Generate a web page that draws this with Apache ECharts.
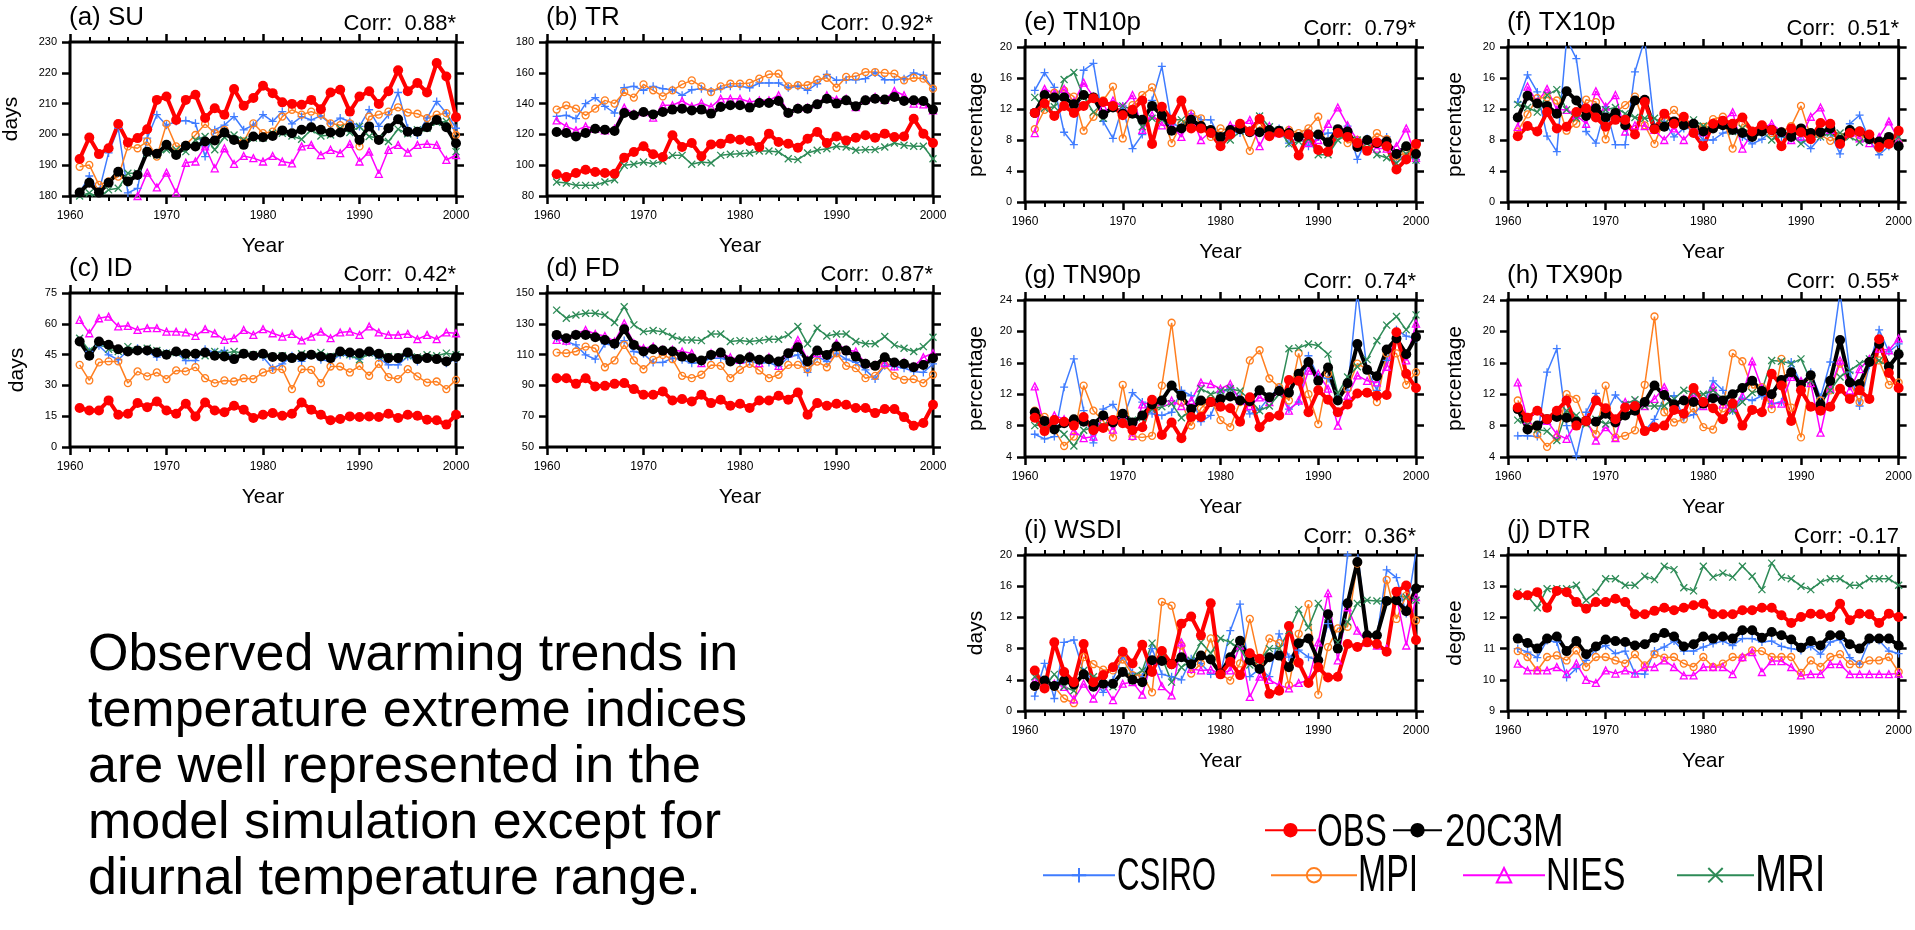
<!DOCTYPE html>
<html><head><meta charset="utf-8">
<script src="https://cdn.jsdelivr.net/npm/echarts@6/dist/echarts.min.js"></script>
<style>html,body{margin:0;padding:0;background:#fff}#c{width:1915px;height:930px}</style>
</head><body><div id="c"></div>
<script>
const years = [1961,1962,1963,1964,1965,1966,1967,1968,1969,1970,1971,1972,1973,1974,1975,1976,1977,1978,1979,1980,1981,1982,1983,1984,1985,1986,1987,1988,1989,1990,1991,1992,1993,1994,1995,1996,1997,1998,1999,2000];

// (a) SU
const suObs = [192,199,193.6,195.5,203.4,197.4,198.8,201.7,211.2,212.3,204.7,211.2,212.9,205.3,208.5,206.4,214.7,209.3,211.8,215.8,213.4,210.4,209.9,209.6,211.2,208.2,213.6,214.5,207.4,212.3,214,209.9,214,220.8,214,216.7,213.6,223.2,218.8,205.6];
const su20c3m = [181.1,184.3,181.1,184.3,187.9,184.7,186.8,194.4,193.7,196.6,193.3,196.3,196.1,197.7,198,200.6,198.2,196.6,199.3,199.1,199.5,201.3,200.4,201.5,202.3,201.5,200.6,200.6,202.3,198.2,202.6,198.2,202,204.9,200.9,200.9,202.3,204.7,202.3,197.1];
const suCsiro = [181,186.5,181.4,194,202,181,182.5,198.8,206.4,203,204.2,204.5,203.6,192.8,201.5,203,205.8,201.5,203,206.4,204.2,207.4,203.4,205.8,204.7,206,203.4,205.3,204.2,202.6,208,202.6,206.4,213.6,202,199.8,205.3,210.7,206.9,202];
const suMpi = [189.5,190.1,183.6,184.7,186.3,196.1,195.5,197.7,192.8,203.4,196.1,196.6,199.8,203.4,200.4,201.5,198.2,197.7,203.6,200.4,200.9,205.8,208,206.4,207.4,206.4,203.6,203,203.6,196.1,205.8,206.4,207.4,208.8,207.1,206.7,205.3,206.4,206.9,199.8];
const suNies = [175,176,174,176,177,178,180,187.6,182.8,187.6,181.1,190.8,191.2,196.1,189,195.5,190.4,193,192.3,191.2,193,191.2,190.6,196.1,196.6,193.3,195,193.9,196.9,191.2,194.4,187.2,195,196.6,194.1,196.6,196.9,196.6,191.7,193.3];
const suMri = [180,181,179.5,182,182.5,187.4,187.4,193.9,193.3,195,195,194.4,198.2,199.3,195,199.1,199.8,198.2,198.8,198.8,200.4,200.4,199.5,198.4,201.5,199.5,199.8,202,200.6,202.6,199.3,198.8,197.7,201.7,200.2,201.5,202,203.9,204.2,194.4];

// (b) TR
const trObs = [94.1,92.3,94.9,97.1,95.6,94.9,94.5,104.9,108.6,112.3,107.1,105.3,119.4,111.8,114.4,105.8,113.5,114,117.2,116.6,115.7,111.8,120.5,115.1,114,111.4,117.2,121.6,114.4,118.7,116.1,117.9,119.4,117.9,120.5,118.3,118.7,130.2,120.5,114.4];
const tr20c3m = [121.6,120.9,118.7,120.9,123.7,123.1,122.2,133.9,132.4,134.5,133,134.5,136.1,136.7,135.6,136.1,133.5,137.8,138.9,138.9,137.4,140.4,140.4,141.7,133.9,136.7,136.7,139.5,143.2,140,142.1,138.2,142.1,143.2,142.6,144.3,141.7,142.1,141.7,136.1];
const trCsiro = [131.7,132.4,130.2,140,143.9,138.2,133.9,150.3,151.2,148.6,151.2,149.7,149,145.4,149,149.7,148.2,149.7,151.2,151.2,150.3,153.4,153.4,153.4,150.3,151.2,148.6,152.9,159,155.1,155.5,155.5,156.2,159.9,155.5,155.5,156.2,159.9,158.4,149.7];
const trMpi = [136.1,138.9,136.7,132.4,136.7,142.1,140,147.5,143.9,152.5,148.6,144.7,148.6,152.5,155.1,151.2,147.5,151.2,152.9,152.9,153.4,156.2,159,159.4,151.2,151.9,151.9,155.5,156.8,150.3,157.3,157.7,160.5,160.5,159.9,159.4,155.1,156.8,156.2,149.7];
const trNies = [129.1,125.2,122.6,125.2,123.7,122.6,123.7,137.4,133.5,134.5,130.9,138.9,138.9,141.7,138.2,140.4,137.8,143.2,143.2,143.2,141,142.1,142.1,145.4,134.5,137.4,137.4,140,145.4,142.6,143.2,137.8,142.6,144.3,142.6,148.2,145.4,140,139.5,135.6];
const trMri = [89.1,88.4,86.9,86.9,86.9,89.1,90.6,99.9,100.6,102.1,101,102.7,106.4,106.4,100.6,102.1,101.4,106.4,107.1,107.5,107.9,109.2,109.2,108.6,104.2,103.6,107.9,109.7,110.7,112.3,111.8,109.7,110.1,110.1,111.8,114.4,112.9,112.3,112.3,104.2];

// (c) ID
const idObs = [19,17.8,17.8,22.7,15.7,16.2,21.4,19.4,22.2,17.8,16.2,21.1,14.9,21.7,17.8,16.9,20.1,18.2,14.1,15.7,16.5,15.2,16.2,21.7,18.2,15.7,13,13.6,14.9,14.6,14.9,14.6,16.2,14.1,15.7,15.2,13.3,13,10.9,15.7];
const id20c3m = [51.4,44.4,51.4,49.8,47.6,46.5,47,47,46,44.9,46.5,45.4,45.4,46,44.4,44.1,42.8,45.4,44.4,45.4,43.8,43.8,43.3,44.1,44.9,44.1,43.3,46.5,46,45.7,46.5,45.4,43.3,43.3,46,42.8,43.3,42.8,41.7,43.8];
const idCsiro = [51.4,46.5,49.3,44.9,42.5,47,48.1,46.5,43.8,45.7,46,42.1,42.1,47.6,46,47,42.5,45.4,44.4,43.8,38.4,40.5,44.4,41.7,44.9,42.5,41.7,44.9,44.4,42.8,46,43.3,40,40,44.1,41.7,43.3,42.8,40.8,42.8];
const idMpi = [40,32.4,41.2,41.7,41.7,31.1,36.8,34.4,36.3,33.1,37.3,36.8,38.9,33.5,31.1,32.4,31.9,33.5,33.1,36.3,37.6,37.9,28.2,37.9,37.6,31.1,39.2,39.2,36.3,39.5,34.7,40.5,34,33.1,37.9,34.4,31.4,31.9,28.2,32.7];
const idNies = [61.9,55.4,62.7,63.5,58.7,59,57,57.9,57.9,56.2,56.2,55.8,54.1,57.4,55.4,52.2,53,57,54.6,57.4,55.4,53.8,55.1,51.9,53.8,56.2,53,55.8,56.2,54.6,58.7,55.8,54.6,54.6,55.1,52.5,54.6,52.5,55.8,55.4];
const idMri = [53,47,50.6,47.6,46.5,48.9,47.3,48.1,47,45.7,46,44.4,45.4,44.4,46.5,45.7,46.5,45.7,44.9,44.9,44.1,44.4,43.3,45.4,44.9,46,44.1,45.7,44.9,42.5,45.7,44.4,44.1,43.8,44.4,43.8,44.9,44.4,45.7,44.9];

// (d) FD
const fdObs = [94.7,94.7,91,94.7,89.3,89.7,91,91.5,87.6,83.9,83.9,86.1,80.2,81.1,79.6,83.9,78.5,80.7,76.8,78.1,75.3,80.2,80.2,83.3,80.7,85.4,71,78.5,76.8,78.1,77.4,75.3,75.3,72,74.6,74.6,69.4,63.8,65.6,77.4];
const fd20c3m = [122.8,120.6,122.8,122.8,121.3,119.5,117,126.5,116.3,112,113.5,112.6,112,108.7,107.7,106.2,109.8,111.3,105.5,107,108.3,106.6,107,105.5,110.9,114.8,105.5,112.6,109.8,115.2,112.6,108.7,104,102.7,108.3,104.9,104,101.8,103.3,107.7];
const fdCsiro = [120.6,118.5,116.3,109.8,107,117,115.7,119.1,112,110.5,104.9,104.9,107.7,106.6,104.4,104.9,107.7,107.7,105.5,104.4,105.5,104.4,104.9,102.3,108.3,109.8,98.4,108.7,105.5,110.9,107,104.9,100.1,94.1,102.7,102.3,101.2,99,98.4,104];
const fdMpi = [111.3,110.9,112,115.2,114.1,101.8,106.2,116.3,106.2,100.5,106.6,109.8,107,96.2,94.7,96.9,103.3,102.7,94.7,100.1,104,99.7,94.7,96.9,103.3,103.3,100.5,105.5,101.8,110.9,102.7,101.2,94.7,96.2,103.3,96.2,93.6,94.1,91.5,96.9];
const fdNies = [119.5,119.1,123.4,126,123.4,122.1,118.5,130.3,117.4,114.1,115.2,113.1,113.1,112,110.9,104.4,110.9,110.9,108.3,106.6,109.2,104.4,108.3,102.7,110.9,119.5,106.6,110.9,109.8,117.4,113.1,112,104.4,103.3,104.4,102.3,104.9,102.3,108.3,110.9];
const fdMri = [138.9,133.6,135.7,136.8,136.8,135.7,130.8,141.1,129.3,124.9,125.6,124.9,121.7,119.5,119.5,119.1,123.4,123.4,118.5,119.1,118.5,119.1,120,120,122.8,128.2,117,127.1,122.1,123.4,123.4,118.5,117,117,121.7,116.3,114.1,112,115.2,121.3];

// (e) TN10p
const tn10Obs = [11.5,12.7,11.1,12.4,11.5,12.4,13.4,12.9,12.4,11.2,11.9,13.1,7.5,12.3,10.6,13.1,9.5,9.5,8.9,7.2,8.7,10.1,9.1,10.7,8.5,8.9,8.7,6,8.7,6.7,6.5,8.9,8.4,7.6,6.6,7.7,7.2,4.2,5.5,7.5];
const tn10_20c3m = [11.5,13.8,13.5,13.5,12.6,13.8,13.5,11.3,12.2,11.4,11.4,10.6,12.4,11.2,9.2,9.5,10.6,9.8,9.3,8.4,9.3,9.4,9,9,9.3,9.2,8.9,8.4,8.7,8.7,7.7,9.4,9.1,7.1,8,7.6,7.8,6.2,7.2,6.2];
const tn10Csiro = [14.4,16.7,14.8,9,7.4,17,17.9,10.4,8.2,12.4,6.9,8.7,13.1,17.5,10.1,9.7,11.4,10.6,10.6,8,9.1,8.9,9.3,11,8.9,9.5,7.6,8.4,7.2,8.4,8.9,8.9,9.8,5.5,8.2,7.6,8.4,5.7,5.9,5.5];
const tn10Mpi = [9.4,11.9,14.1,14.4,13.6,9.2,11,13.1,14.9,8.2,12.5,13.8,14.8,11.6,7.6,10.1,11.4,10.8,8.4,9.5,9.1,9.5,6.6,9.7,9.3,9.1,9.3,8.9,9.5,11,6.5,8.9,7.6,8,7.5,8.9,8.1,5.9,6.3,7.2];
const tn10Nies = [8.9,14.6,14,14.6,12.9,15.4,13.6,12.3,13.1,12.3,13.8,9.3,11.2,9.9,9.9,8.4,11.2,8,9.1,7.6,9.9,9.8,10.6,7.2,9.8,8.9,9.3,8.4,7.6,8,10.1,12.2,9.9,8,8,6.9,6.9,7.2,9.5,5.7];
const tn10Mri = [13.5,12.1,12.3,15.8,16.7,13.6,11.6,10.8,12.3,12.4,11.9,9.7,10.8,10.6,10.6,10.6,9.9,9.5,8.9,8,8,9.1,9.1,11.1,9.7,9.3,7.5,7.8,8.1,6.1,6.1,8,8.7,8,7.6,6.1,5.7,5,6.2,5.4];

// (f) TX10p
const tx10Obs = [8.5,9.8,9.1,11.6,9.5,9.7,11.6,12.1,10.9,9.7,10.6,10.6,8.7,12.9,9.4,11.4,10.1,11,8.9,7.2,10.1,10.5,10.1,10.9,9.1,9.9,9.3,7.2,9.5,9,8.1,10.2,10.1,7.5,8.9,9.1,8.7,7.1,7.5,9.2];
const tx10_20c3m = [10.9,13.7,12.7,12.4,11.4,14.3,13.1,11.1,12.1,10.9,11.5,9.9,13.1,13.2,9.5,9.7,10.4,9.9,10.1,9.1,9.5,9.9,9.3,8.9,8.4,9.1,9.3,9,8.4,9.5,8.9,9,9.5,8,9.3,9.1,8.1,7.8,8.4,7.2];
const tx10Csiro = [12.9,16.4,14.2,8.5,6.5,21,18.5,9.1,7.6,12.3,7.4,7.4,16.8,21,9.7,10.4,8.4,9.5,9.5,8,8,8.9,9.3,8.4,7.5,8.1,9.1,8.4,8.2,8,6.9,8.4,8.9,6.2,10.1,11.2,8,6.1,7.2,7.6];
const tx10Mpi = [9.1,11.3,13.4,13.5,13.1,9.2,10.1,13.2,12.9,8.1,11.6,12.5,13.6,9.9,7.5,10.6,11.9,10.4,9.5,9.7,10.7,11,6.9,10.1,9.1,9.7,8.9,9.1,9.8,12.4,8.4,8.7,7.9,8.4,9.1,8.4,8.4,6.9,8.1,7.6];
const tx10Nies = [9.7,14.9,12.9,14.6,11.9,11.9,11.2,10.1,14.3,12.3,13.8,9.1,9.9,9.8,9.3,8,9.5,8,9.5,9,9.9,10.4,11.6,6.9,8.9,9.5,10.1,9.1,8,8.4,11,12.2,9.3,8,8.9,8.2,7.6,8.4,10.4,8];
const tx10Mri = [12.6,12.2,11.6,13.8,14.5,11.9,10.8,11.5,11.6,11.9,12.2,11.4,10.9,10.8,10.8,10.1,10.4,9.9,10.6,9.8,9.5,10.1,9.1,9.5,8.9,9.1,8,8.7,8.7,7.5,8.4,8.4,8.9,8.9,8.4,7.7,8,7.6,8,8.4];

// (g) TN90p
const tn90Obs = [9,7.3,8.7,8.5,8,9.1,7.4,7.7,8.7,8.3,7.4,7.8,11.3,6.8,8.4,6.4,9.1,9.1,11,10.4,10.2,8.5,11.6,7.8,9.1,9.3,13.8,13.7,9.7,12.5,11.3,9.7,10.7,12.1,12.2,11.8,11.9,19.9,14.6,12.8];
const tn90_20c3m = [9.7,8.6,7.5,8.3,8.8,8.5,8.2,9.3,8.4,9.5,8.4,9.3,10.7,11.2,13.1,11.8,10.1,11.2,11,11.4,11.7,11.2,11.1,12.5,11.6,12.4,12.2,14.6,16.1,13.7,15.4,11.2,13.4,18.4,15.1,14.3,17.7,19.1,17.1,19.3];
const tn90Csiro = [6.9,6.3,6.6,12.9,16.5,9.9,5.8,10.1,10.7,8.8,12.2,11,9.5,9.3,9.7,12.5,11.8,8.5,9.3,12.2,12.7,11.6,9.5,10.1,11.6,12.9,10.1,11,16.9,14.2,14,11.6,12.5,25,15.1,12.5,16.3,20.2,19.4,19.1];
const tn90Mpi = [9.9,9.1,7.5,5.4,6.6,13.1,9.9,8.6,6.5,13.2,6.6,6.5,6.7,13.1,21.1,11,8,10.2,11.4,8.7,7.8,11,16.3,17.6,14,12.9,11.2,17.2,12,8.2,14.6,11.2,12.7,15.9,15.2,11,17.2,17.2,13.2,14.8];
const tn90Nies = [13,7.8,9.3,8.8,7.3,6.4,6.6,9.3,7.5,9.5,6.7,10.7,11,11,11.2,10.5,11.2,13.5,13.3,12.7,13.3,11.2,10.5,11.6,11,12.5,9.9,11.2,15,14.6,12.7,8,11.8,14.4,13.7,13.5,15.5,19.7,16.3,21];
const tn90Mri = [8,8.1,8,6.9,5.4,7.4,7.8,8,8.6,8.4,8.7,9,10.1,10.4,10.8,9,9.9,12.7,12,12.4,12.7,12.4,11.3,9.9,10.5,12,17.8,17.9,18.4,18.2,17.1,12.1,14.2,15.5,16.4,18.8,20.8,21.9,20.2,22.1];

// (h) TX90p
const tx90Obs = [10.3,9,9.9,8.8,9.9,11.2,8,8.6,11.2,10.2,8.8,10.3,10.5,7.3,7.8,8,10,9.5,12.8,11,10.2,8.8,10.8,8,10,9.7,14.6,13.1,8.6,12.5,10.4,9.9,10.4,12.7,11.4,12.5,11.4,19,14.7,12.8];
const tx90_20c3m = [10.1,7.5,8,8.8,9.1,9,8.5,8.6,8.5,9.5,8.4,9.3,9.9,11,13.1,11.9,10.7,11.2,11,10.8,11.5,11.2,12,12.8,13.7,12.4,12,13.8,14.8,13.2,14.4,10.7,13.7,18.9,13.5,13.3,16.1,18.4,15.5,17.1];
const tx90Csiro = [6.7,6.7,6.6,14.8,17.8,8,4.1,9.7,12.1,9.5,11.9,10.5,10.7,7.3,8.8,11.6,11.8,9,9.4,10.8,13.7,12.5,9.9,11.5,11.2,11.8,10.8,11,16.1,13.3,14.8,11.6,16.1,25,14.8,10.5,15.7,20.2,17.4,18.4];
const tx90Mpi = [11.2,9,6.9,5.3,6.5,12,11.4,8.4,6.9,13.1,6.5,6.7,7.4,13.2,21.9,9.7,8.4,8.8,10.2,7.8,7.5,10.2,17.2,16.2,12.8,12.9,10.1,16.5,10.3,6.5,14.2,11.2,12.5,15.9,13.5,11,16.2,16.3,13.2,13.5];
const tx90Nies = [13.5,8.7,9.9,8.6,6.9,6.3,8.4,8.8,6.1,7.8,6.4,11,11,10.5,11.4,12.9,10.2,11.4,11.8,10.5,12.9,10.7,10.3,11.8,16.2,12.8,10.8,10.8,14.2,13.7,13.4,7.1,12.7,16.3,12.5,15.2,16.5,17.8,17.6,19.1];
const tx90Mri = [8.7,8.1,7.5,7.3,6.1,9.9,9.3,8.2,8.8,8.2,8.6,10.7,11.3,10.5,10.5,10.5,11.4,12.5,12.2,12,12.5,11.4,9.9,11,12.2,12.5,16.3,16.2,15.9,16.5,13.7,10.8,12.5,14.2,15,15.9,16.5,16.3,15.5,17.2];

// (i) WSDI
const wsObs = [5.2,2.9,8.8,5,3.7,8.6,3.7,4.6,5.6,7.6,6.1,8.5,5,7.7,6,11.2,12.1,9.7,13.8,4.7,6.3,4.6,7.4,6.7,2.2,2.6,10.9,6.2,3.6,5.6,4.3,4.4,8.6,8.2,8.8,8.6,7.6,15.3,16.1,9.1];
const ws20c3m = [3.2,3.9,3.2,3.9,3.4,4.7,3.1,3.5,3.5,5,4,3.7,6.5,6.4,6,6.9,6,7.1,6.6,4.8,6.9,9,6.5,5.4,6.9,7.1,5.6,8.7,9.3,6.5,12.4,8,13.8,19.1,9.7,9.7,14.1,14.2,12.8,15.7];
const wsCsiro = [1.9,6.1,1.6,8.8,9.1,5,4,2.4,4,7.1,4.9,4.4,8,4.7,4.4,4,6.7,6.1,4.7,4.8,10.3,13.7,4.4,5.4,4.4,9.9,6.9,7.8,6.9,6.5,11.2,8.2,20,20.6,9.7,9.5,18.1,17.1,12.5,20.4];
const wsMpi = [3.1,3.6,3.1,1.6,1,6.9,6,5.3,5.2,6.6,4.6,4.6,2.4,14,13.5,8.4,4.8,6.1,9.3,4.8,3.9,6.1,11.8,6.1,9.3,8.7,3.3,9.9,13.7,2.1,8.2,10.6,10.8,18.9,9.5,8.4,16.8,11.8,14.8,11.6];
const wsNies = [3.9,3.7,3.5,3.1,1.5,3.5,1.6,3.5,1.4,3.5,3.7,2.1,6.5,3.2,2,8.8,5.4,5.2,5.3,4.8,5.2,8.4,1.8,4.4,4,3.3,2.9,3.6,3.9,8.8,15.1,6.5,13.3,10.3,8.8,8.4,8,14.8,8.4,14.6];
const wsMri = [4.4,3.1,4.7,3.1,2.6,5.2,4.4,4.1,3.1,5.2,4.4,5.2,8.7,6.9,3.7,5.6,6.5,8.8,7.4,9.3,8.8,8,5.9,6.5,8,8,10.3,13,10.7,13.8,12.1,8.8,11.4,13.8,14.2,14.1,14.1,14.8,14.6,14.2];

// (j) DTR
const dtrObs = [12.71,12.71,12.81,12.31,12.85,12.81,12.49,12.28,12.49,12.49,12.6,12.49,12.1,12.1,12.21,12.31,12.23,12.31,12.39,12.44,12.1,12.1,12.1,12.23,12.23,12.31,12.31,12.07,11.82,12.01,12.12,12.1,12.01,12.44,11.91,12.12,12.1,11.82,12.12,12.01];
const dtr20c3m = [11.32,11.18,11,11.32,11.39,10.92,11.24,10.82,11.07,11.29,11.24,11.21,11.1,11.14,11.35,11.5,11.39,11.07,11.14,11.39,11.32,11.39,11.32,11.59,11.59,11.35,11.53,11.43,11.29,11.03,11.24,11.1,11.43,11.43,11.14,11,11.32,11.32,11.32,11.1];
const dtrCsiro = [11,10.89,10.71,11.26,11.21,10.07,10.36,10.62,10.97,11.1,10.84,10.92,10.2,10.18,10.92,11.05,11.24,10.92,10.92,11.05,11.16,11.24,11.1,11.32,11.32,11.21,11.24,11.07,11,10.94,11.07,10.82,11.21,11.29,10.71,10.5,11.26,11.26,10.92,10.84];
const dtrMpi = [10.92,10.73,10.3,10.73,10.78,10.62,10.94,10.41,10.73,10.73,10.62,10.52,10.82,10.46,10.82,10.71,10.73,10.52,10.41,10.73,10.41,10.52,10.73,10.71,10.94,10.92,10.73,10.73,10.73,10.22,10.62,10.41,10.73,10.82,10.5,10.5,10.62,10.62,10.73,10.25];
const dtrNies = [10.52,10.3,10.3,10.3,10.41,10.2,10.52,10,9.9,10.3,10.2,10.3,10.2,10.41,10.41,10.62,10.41,10.14,10.14,10.41,10.41,10.41,10.18,10.73,10.89,10.25,10.6,10.6,10.41,10.14,10.18,10.18,10.5,10.5,10.18,10.18,10.18,10.18,10.18,10.2];
const dtrMri = [12.81,12.68,12.31,12.92,12.92,12.92,13.03,12.55,12.81,13.24,13.24,13.03,13.03,13.32,13.21,13.64,13.53,12.95,12.85,13.64,13.29,13.42,13.29,13.64,13.32,12.89,13.74,13.29,13.24,13,12.89,13.13,13.24,13.24,13.03,13.03,13.24,13.24,13.24,13.03];

const xTicks = [1960, 2000, 10];
const seriesNames = ['CSIRO','MPI','NIES','MRI','20C3M','OBS'];

const FONT = '"Liberation Sans", Arial, Helvetica, sans-serif';
const styles = {
  'CSIRO': {color:'#3f7cff', width:1.5, symbol:'path://M5,0L5,10M0,5L10,5', size:8, filled:false},
  'MPI':   {color:'#ff7f20', width:1.5, symbol:'circle', size:7, filled:false},
  'NIES':  {color:'#ff00ff', width:1.5, symbol:'triangle', size:7, filled:false},
  'MRI':   {color:'#2e8b57', width:1.5, symbol:'path://M0,0L10,10M10,0L0,10', size:7, filled:false},
  '20C3M': {color:'#000000', width:4, symbol:'circle', size:10, filled:true},
  'OBS':   {color:'#ff0000', width:4, symbol:'circle', size:10, filled:true}
};

const panels = [
  {title:'(a) SU', corr:'Corr:  0.88*', yName:'days', nameGap:48, min:180, max:230, interval:10, left:70, top:42, width:386, height:154, data:[suCsiro,suMpi,suNies,suMri,su20c3m,suObs]},
  {title:'(b) TR', corr:'Corr:  0.92*', yName:'', nameGap:40, min:80, max:180, interval:20, left:547, top:42, width:386, height:154, data:[trCsiro,trMpi,trNies,trMri,tr20c3m,trObs]},
  {title:'(c) ID', corr:'Corr:  0.42*', yName:'days', nameGap:42, min:0, max:75, interval:15, left:70, top:293, width:386, height:154, data:[idCsiro,idMpi,idNies,idMri,id20c3m,idObs]},
  {title:'(d) FD', corr:'Corr:  0.87*', yName:'', nameGap:40, min:50, max:150, interval:20, left:547, top:293, width:386, height:154, data:[fdCsiro,fdMpi,fdNies,fdMri,fd20c3m,fdObs]},
  {title:'(e) TN10p', corr:'Corr:  0.79*', yName:'percentage', nameGap:38, min:0, max:20, interval:4, left:1025, top:47, width:391, height:155, data:[tn10Csiro,tn10Mpi,tn10Nies,tn10Mri,tn10_20c3m,tn10Obs]},
  {title:'(f) TX10p', corr:'Corr:  0.51*', yName:'percentage', nameGap:42, min:0, max:20, interval:4, left:1508, top:47, width:391, height:155, data:[tx10Csiro,tx10Mpi,tx10Nies,tx10Mri,tx10_20c3m,tx10Obs]},
  {title:'(g) TN90p', corr:'Corr:  0.74*', yName:'percentage', nameGap:38, min:4, max:24, interval:4, left:1025, top:300, width:391, height:157, data:[tn90Csiro,tn90Mpi,tn90Nies,tn90Mri,tn90_20c3m,tn90Obs]},
  {title:'(h) TX90p', corr:'Corr:  0.55*', yName:'percentage', nameGap:42, min:4, max:24, interval:4, left:1508, top:300, width:391, height:157, data:[tx90Csiro,tx90Mpi,tx90Nies,tx90Mri,tx90_20c3m,tx90Obs]},
  {title:'(i) WSDI', corr:'Corr:  0.36*', yName:'days', nameGap:38, min:0, max:20, interval:4, left:1025, top:555, width:391, height:156, data:[wsCsiro,wsMpi,wsNies,wsMri,ws20c3m,wsObs]},
  {title:'(j) DTR', corr:'Corr: -0.17', yName:'degree', nameGap:42, min:9, max:14, interval:1, left:1508, top:555, width:391, height:156, data:[dtrCsiro,dtrMpi,dtrNies,dtrMri,dtr20c3m,dtrObs]}
];

const grid = [], xAxis = [], yAxis = [], series = [], graphic = [];
const tick = {show:true, inside:false, length:8, lineStyle:{color:'#000', width:2.5}};
const minor = {show:true, splitNumber:5, length:5, lineStyle:{color:'#000', width:2}};

panels.forEach((p, i) => {
  grid.push({left:p.left, top:p.top, width:p.width, height:p.height, show:true, borderColor:'#000', borderWidth:3, backgroundColor:'rgba(0,0,0,0)'});
  xAxis.push({gridIndex:i, type:'value', min:xTicks[0], max:xTicks[1], interval:xTicks[2], position:'bottom',
    axisLine:{show:false, onZero:false}, axisTick:tick, minorTick:minor, splitLine:{show:false}, minorSplitLine:{show:false},
    axisLabel:{color:'#000', fontSize:12, margin:14, fontFamily:FONT, formatter:v => String(v)},
    name:'Year', nameLocation:'middle', nameGap:40, nameTextStyle:{color:'#000', fontSize:21, fontFamily:FONT}});
  xAxis.push({gridIndex:i, type:'value', min:xTicks[0], max:xTicks[1], interval:xTicks[2], position:'top',
    axisLine:{show:false, onZero:false}, axisTick:tick, minorTick:minor, splitLine:{show:false}, minorSplitLine:{show:false},
    axisLabel:{show:false}});
  yAxis.push({gridIndex:i, type:'value', min:p.min, max:p.max, interval:p.interval, position:'left',
    axisLine:{show:false, onZero:false}, axisTick:tick, splitLine:{show:false},
    axisLabel:{color:'#000', fontSize:11, margin:13, fontFamily:FONT, formatter:v => String(v)},
    name:p.yName, nameLocation:'middle', nameGap:p.nameGap, nameTextStyle:{color:'#000', fontSize:21, fontFamily:FONT}});
  yAxis.push({gridIndex:i, type:'value', min:p.min, max:p.max, interval:p.interval, position:'right',
    axisLine:{show:false, onZero:false}, axisTick:tick, splitLine:{show:false}, axisLabel:{show:false}});

  seriesNames.forEach((name, k) => {
    const s = styles[name];
    series.push({
      type:'line', name, xAxisIndex:2*i, yAxisIndex:2*i,
      data: years.map((y, j) => [y, p.data[k][j]]),
      symbol:s.symbol, symbolSize:s.size, showSymbol:true, clip:true, silent:true,
      lineStyle:{color:s.color, width:s.width},
      itemStyle: s.filled ? {color:s.color, borderWidth:0} : {color:'rgba(0,0,0,0)', borderColor:s.color, borderWidth:1.3},
      emphasis:{disabled:true}
    });
  });

  graphic.push({type:'text', x:p.left - 1, y:p.top - 24, silent:true,
    style:{text:p.title, fontSize:26, fontFamily:FONT, fill:'#000', align:'left', verticalAlign:'middle'}});
  graphic.push({type:'text', x:p.left + p.width, y:p.top - 18, silent:true,
    style:{text:p.corr, fontSize:22, fontFamily:FONT, fill:'#000', align:'right', verticalAlign:'middle'}});
});

// paragraph
const paragraph = ['Observed warming trends in', 'temperature extreme indices', 'are well represented in the', 'model simulation except for', 'diurnal temperature range.'];
paragraph.forEach((t, i) => {
  graphic.push({type:'text', x:88, y:656 + i * 56, silent:true,
    style:{text:t, fontSize:52, fontFamily:FONT, fill:'#000', align:'left', verticalAlign:'middle'}});
});

// legend: icons from the legend component, condensed labels as text
const legendItems = [
  {name:'OBS',   left:1264, cy:832, w:51, tx:1317, fs:46, sx:0.72},
  {name:'20C3M', left:1392, cy:832, w:49, tx:1445, fs:46, sx:0.80},
  {name:'CSIRO', left:1042, cy:876, w:72, tx:1117, fs:46, sx:0.68},
  {name:'MPI',   left:1270, cy:876, w:86, tx:1358, fs:52, sx:0.65},
  {name:'NIES',  left:1462, cy:876, w:82, tx:1546, fs:46, sx:0.74},
  {name:'MRI',   left:1676, cy:876, w:77, tx:1755, fs:52, sx:0.74}
];
const legend = legendItems.map(l => ({
  data:[l.name], left:l.left, top:l.cy - 9, itemWidth:l.w, itemHeight:18, padding:0, itemGap:0,
  selectedMode:false, formatter:() => '', textStyle:{fontSize:10, lineHeight:10}
}));
legendItems.forEach(l => {
  graphic.push({type:'text', x:l.tx, y:l.cy + 1, scaleX:l.sx, silent:true,
    style:{text:l.name, fontSize:l.fs, fontFamily:FONT, fill:'#000', align:'left', verticalAlign:'middle'}});
});

const chart = echarts.init(document.getElementById('c'), null, {renderer:'canvas', width:1915, height:930});
chart.setOption({
  backgroundColor:'#ffffff',
  animation:false,
  grid, xAxis, yAxis, series, legend, graphic
});
</script>
</body></html>
